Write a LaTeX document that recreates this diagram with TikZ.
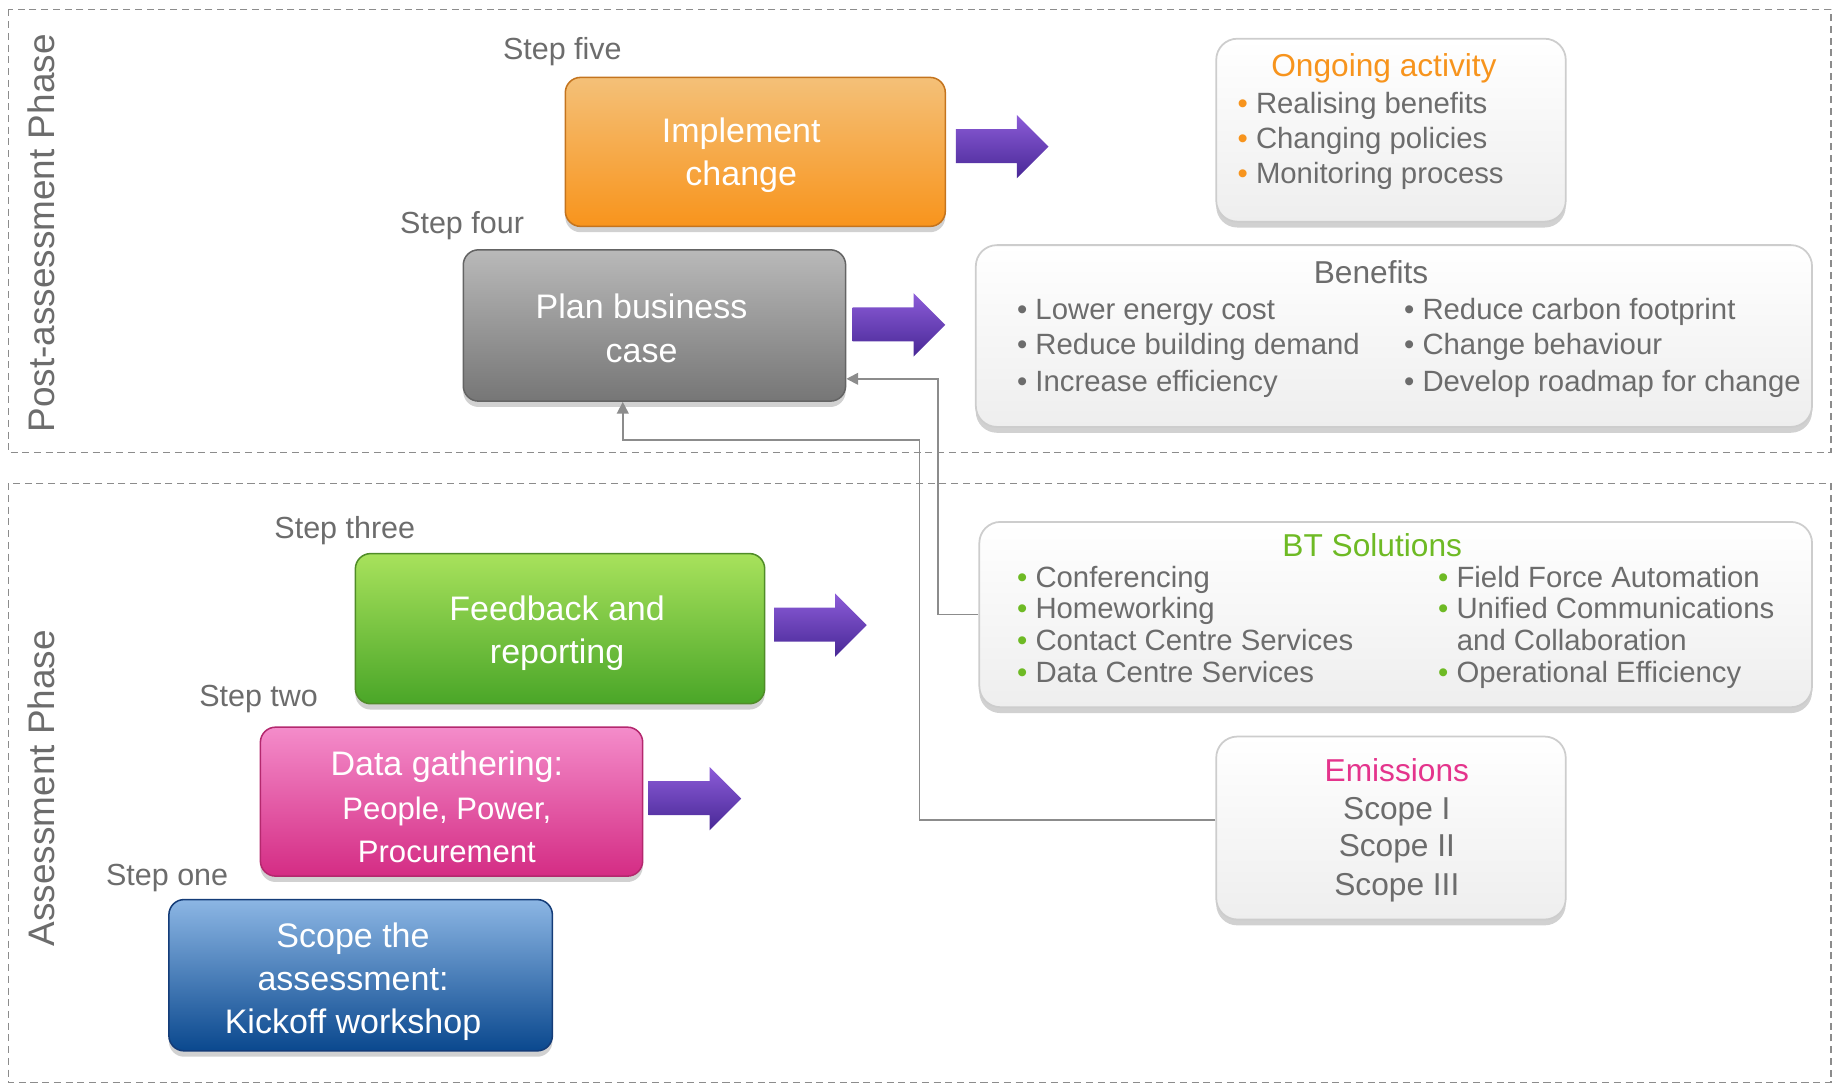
\documentclass[tikz,border=0pt]{standalone}
\usepackage{fontspec}
\setmainfont{Liberation Sans}
\usetikzlibrary{shadows,arrows.meta,calc}
\definecolor{txtgray}{RGB}{108,108,108}
\definecolor{dashgray}{RGB}{140,140,140}
\definecolor{conngray}{RGB}{140,140,140}
\definecolor{boxborder}{RGB}{205,205,205}
\definecolor{wbot}{RGB}{238,238,238}
\definecolor{ornT}{RGB}{244,192,120}
\definecolor{ornB}{RGB}{248,148,28}
\definecolor{ornD}{RGB}{196,116,30}
\definecolor{gryT}{RGB}{185,185,185}
\definecolor{gryB}{RGB}{118,118,118}
\definecolor{gryD}{RGB}{100,100,100}
\definecolor{grnT}{RGB}{168,226,92}
\definecolor{grnB}{RGB}{74,166,40}
\definecolor{grnD}{RGB}{80,140,40}
\definecolor{pnkT}{RGB}{244,140,202}
\definecolor{pnkB}{RGB}{212,44,132}
\definecolor{pnkD}{RGB}{180,40,110}
\definecolor{bluT}{RGB}{140,182,228}
\definecolor{bluB}{RGB}{10,72,142}
\definecolor{bluD}{RGB}{20,60,120}
\definecolor{purT}{RGB}{140,92,216}
\definecolor{purB}{RGB}{72,40,150}
\definecolor{titleorange}{RGB}{247,148,29}
\definecolor{titlegreen}{RGB}{110,186,36}
\definecolor{titlepink}{RGB}{228,52,140}
\begin{document}
\begin{tikzpicture}[x=1pt,y=-1pt,
  cbox/.style={rounded corners=13pt, line width=1.3pt, inner sep=0pt,
    drop shadow={shadow xshift=0pt,shadow yshift=-5pt,opacity=0.3,fill=black!60}},
  wbox/.style={rounded corners=18pt, draw=boxborder, line width=1.5pt, inner sep=0pt,
    top color=white, bottom color=wbot,
    drop shadow={shadow xshift=0pt,shadow yshift=-5pt,opacity=0.3,fill=black!60}},
  boxtext/.style={text=white, align=center, font=\fontsize{29}{37}\selectfont, yshift=-3pt},
  steplabel/.style={text=txtgray, font=\fontsize{26}{30}\selectfont, inner sep=0pt, yshift=-3pt},
  listitem/.style={text=txtgray, anchor=mid west, font=\fontsize{25}{30}\selectfont, inner sep=0pt, yshift=-6pt},
  boxtitle/.style={font=\fontsize{27}{30}\selectfont, inner sep=0pt},
  phaselabel/.style={text=txtgray, rotate=90, font=\fontsize{31.5}{32}\selectfont, inner sep=0pt},
  conn/.style={draw=conngray, line width=1.5pt, -{Triangle[width=10pt,length=10pt]}},
  phasebox/.style={draw=dashgray, dash pattern=on 6pt off 4pt, line width=1.2pt},
  purplearrow/.pic={
    \shade[top color=purT, bottom color=purB]
      (0,-15) -- (52,-15) -- (52,-27) -- (79,0) -- (52,27) -- (52,14) -- (0,14) -- cycle;
  }
]
\useasboundingbox (0,0) rectangle (1568,926);

% phase regions
\draw[phasebox] (7,8) rectangle (1561,386);
\draw[phasebox] (7,412) rectangle (1561,923);
\node[phaselabel] (postlbl) at (35,199) {Post-assessment Phase};
\node[phaselabel] (asslbl) at (35,672) {Assessment Phase};

% step labels
\node[steplabel] (s5) at (479.5,41) {Step five};
\node[steplabel] (s4) at (394,189) {Step four};
\node[steplabel] (s3) at (294,449) {Step three};
\node[steplabel] (s2) at (220.5,593) {Step two};
\node[steplabel] (s1) at (142.5,746) {Step one};

% coloured step boxes
\node[cbox, draw=ornD, top color=ornT, bottom color=ornB, minimum width=324pt, minimum height=127pt] (impl) at (644,129.5) {};
\node[boxtext] (impltxt) at (632,129.5) {Implement\\change};

\node[cbox, draw=gryD, top color=gryT, bottom color=gryB, minimum width=326pt, minimum height=129pt] (plan) at (558,277.5) {};
\node[boxtext] (plantxt) at (547,277) {Plan business\\case};

\node[cbox, draw=grnD, top color=grnT, bottom color=grnB, minimum width=349pt, minimum height=128pt] (feed) at (477.5,536) {};
\node[boxtext] (feedtxt) at (475,537) {Feedback and\\reporting};

\node[cbox, draw=pnkD, top color=pnkT, bottom color=pnkB, minimum width=326pt, minimum height=127pt] (data) at (385,683.5) {};
\node[boxtext] (datatxt) at (381,685) {Data gathering:\\{\fontsize{26.5}{34}\selectfont People, Power,}\\{\fontsize{26.5}{34}\selectfont Procurement}};

\node[cbox, draw=bluD, top color=bluT, bottom color=bluB, minimum width=327pt, minimum height=129pt] (scope) at (307.5,831.5) {};
\node[boxtext] (scopetxt) at (301,834) {Scope the\\assessment:\\Kickoff workshop};

% purple arrows
\pic (pa1) at (815,125) {purplearrow};
\pic (pa2) at (727,277) {purplearrow};
\pic (pa3) at (660,533) {purplearrow};
\pic (pa4) at (553,681) {purplearrow};

% white boxes
\node[wbox, minimum width=298pt, minimum height=156pt] (ongo) at (1186,111) {};
\node[boxtitle, text=titleorange] (ongot) at (1180,58) {Ongoing activity};
\node[listitem] (o1) at (1055,88) {\textcolor{titleorange}{•}\ Realising benefits};
\node[listitem] (o2) at (1055,118) {\textcolor{titleorange}{•}\ Changing policies};
\node[listitem] (o3) at (1055,148) {\textcolor{titleorange}{•}\ Monitoring process};

\node[wbox, minimum width=713pt, minimum height=155pt] (ben) at (1188.5,286.5) {};
\node[boxtitle, text=txtgray] (bent) at (1169,232) {Benefits};
\node[listitem] (b1) at (867,264) {•\ Lower energy cost};
\node[listitem] (b2) at (867,294) {•\ Reduce building demand};
\node[listitem] (b3) at (867,325) {•\ Increase efficiency};
\node[listitem] (b4) at (1197,264) {•\ Reduce carbon footprint};
\node[listitem] (b5) at (1197,294) {•\ Change behaviour};
\node[listitem] (b6) at (1197,325) {•\ Develop roadmap for change};

\node[wbox, minimum width=710pt, minimum height=158pt] (bt) at (1190,524) {};
\node[boxtitle, text=titlegreen] (btt) at (1170,465) {BT Solutions};
\node[listitem] (t1) at (867,492) {\textcolor{titlegreen}{•}\ Conferencing};
\node[listitem] (t2) at (867,519) {\textcolor{titlegreen}{•}\ Homeworking};
\node[listitem] (t3) at (867,546) {\textcolor{titlegreen}{•}\ Contact Centre Services};
\node[listitem] (t4) at (867,573) {\textcolor{titlegreen}{•}\ Data Centre Services};
\node[listitem] (t5) at (1226,492) {\textcolor{titlegreen}{•}\ Field Force Automation};
\node[listitem] (t6) at (1226,519) {\textcolor{titlegreen}{•}\ Unified Communications};
\node[listitem] (t7) at (1242,546) {and Collaboration};
\node[listitem] (t8) at (1226,573) {\textcolor{titlegreen}{•}\ Operational Efficiency};

\node[wbox, minimum width=298pt, minimum height=156pt] (em) at (1186,706) {};
\node[boxtitle, text=titlepink] (emt) at (1191,657) {Emissions};
\node[boxtitle, text=txtgray] (e1) at (1191,692) {Scope I};
\node[boxtitle, text=txtgray] (e2) at (1191,724) {Scope II};
\node[boxtitle, text=txtgray] (e3) at (1191,757) {Scope III};

% connectors
\coordinate (c1) at (800,323);
\coordinate (c2) at (784,375);
\coordinate (c3) at (531,375);
\draw[conn] (bt.west) -| (c1) -- (plan.east |- c1);
\draw[conn] ($(em.west)+(0,-7)$) -| (c2) -- (c3) -- (c3 |- plan.south);
\end{tikzpicture}
\end{document}
